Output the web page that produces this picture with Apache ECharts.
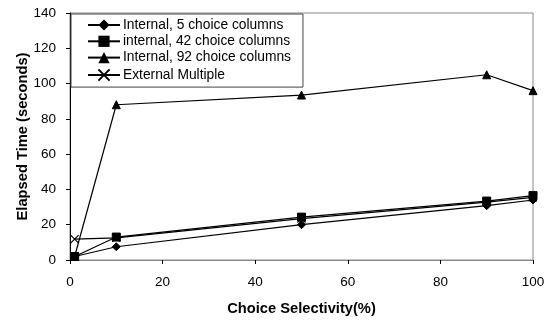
<!DOCTYPE html>
<html><head><meta charset="utf-8">
<script src="https://cdn.jsdelivr.net/npm/echarts@6/dist/echarts.min.js"></script>
<style>html,body{margin:0;padding:0;background:#fff}#c{width:558px;height:320px}</style>
</head><body><div id="c"></div>
<script>
var selectivity = [1, 10, 50, 90, 100];
var internal5 = [2, 7.5, 20, 30.8, 34];
var internal42 = [2, 13, 24.3, 33.4, 36.5];
var internal92 = [2, 88, 93.5, 105, 96];
var externalMultiple = [11.8, 12.5, 23.5, 32.8, 35.5];
var seriesNames = ['Internal, 5 choice columns', 'internal, 42 choice columns', 'Internal, 92 choice columns', 'External Multiple'];
var xTicks = [0, 20, 40, 60, 80, 100];
var yTicks = [0, 20, 40, 60, 80, 100, 120, 140];

function pairs(ys){ return selectivity.map(function(x,i){ return [x, ys[i]]; }); }
var crossPath = 'path://M0,0L10,10M10,0L0,10';
var font = 'Liberation Sans, Arial, sans-serif';
function mk(name, data, symbol, size, extra){
  var s = {name:name, type:'line', data:pairs(data), symbol:symbol, symbolSize:size,
    lineStyle:{color:'#000', width:1.2}, itemStyle:{color:'#000', borderColor:'#000'},
    emphasis:{disabled:true}, animation:false};
  if (extra) for (var k in extra) s[k]=extra[k];
  return s;
}
var chart = echarts.init(document.getElementById('c'), null, {renderer:'canvas'});
chart.setOption({
  animation:false,
  grid:{left:70, top:13, right:25, bottom:60, show:true, borderColor:'#888', borderWidth:1,
    outerBoundsMode:'none', containLabel:false},
  legend:{orient:'vertical', left:71, top:14, padding:[4,12,4,16],
    backgroundColor:'#fff', borderColor:'#444', borderWidth:1, itemGap:2.3,
    itemWidth:32, itemHeight:14,
    textStyle:{fontFamily:font, fontSize:13.8, lineHeight:14, color:'#000', padding:[0,0,0,-2]},
    data:seriesNames.map(function(n){return {name:n};})},
  xAxis:{type:'value', min:xTicks[0], max:xTicks[xTicks.length-1], interval:20,
    name:'Choice Selectivity(%)', nameLocation:'middle', nameGap:41, nameMoveOverlap:false,
    nameTextStyle:{fontFamily:font, fontSize:14.7, fontWeight:'bold', color:'#000'},
    axisLine:{show:true, onZero:false, lineStyle:{color:'#888', width:1}},
    axisTick:{show:true, inside:false, length:4, lineStyle:{color:'#000'}},
    axisLabel:{fontFamily:font, fontSize:13.5, color:'#000', margin:15},
    splitLine:{show:false}},
  yAxis:{type:'value', min:yTicks[0], max:yTicks[yTicks.length-1], interval:20,
    name:'Elapsed Time (seconds)', nameLocation:'middle', nameGap:40, nameRotate:90, nameMoveOverlap:false,
    nameTextStyle:{fontFamily:font, fontSize:14.7, fontWeight:'bold', color:'#000'},
    axisLine:{show:true, lineStyle:{color:'#000', width:1}},
    axisTick:{show:true, inside:false, length:4, lineStyle:{color:'#000'}},
    axisLabel:{fontFamily:font, fontSize:13.5, color:'#000', margin:14},
    splitLine:{show:false}},
  series:[
    mk(seriesNames[3], externalMultiple, crossPath, 8, {itemStyle:{color:'none', borderColor:'#000', borderWidth:1.2}}),
    mk(seriesNames[0], internal5, 'diamond', 8),
    mk(seriesNames[1], internal42, 'rect', 8),
    mk(seriesNames[2], internal92, 'triangle', 8)
  ]
});
</script></body></html>
